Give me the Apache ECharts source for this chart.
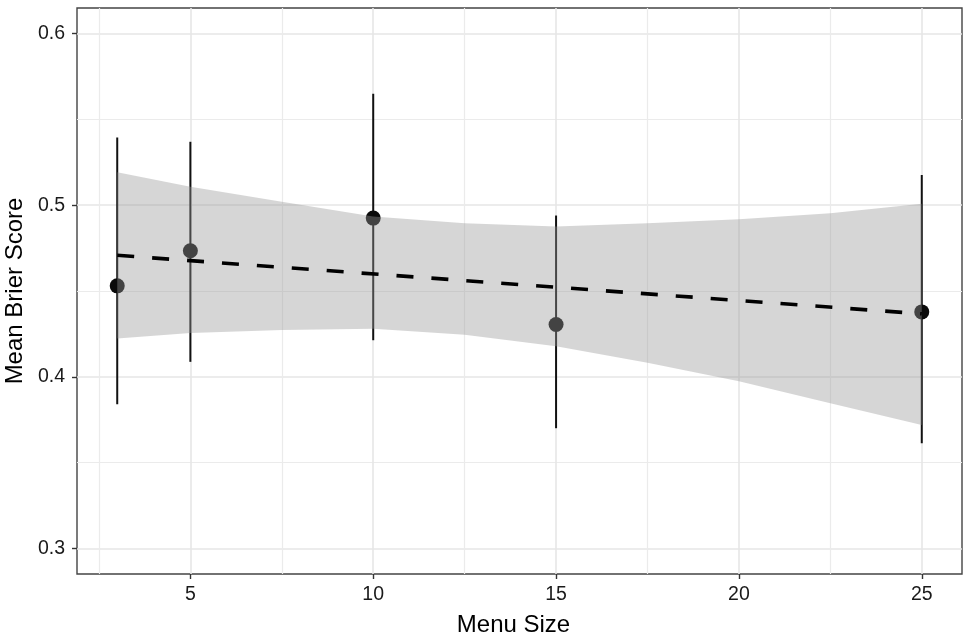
<!DOCTYPE html>
<html><head><meta charset="utf-8">
<script src="https://cdn.jsdelivr.net/npm/echarts@6/dist/echarts.min.js"></script>
<style>html,body{margin:0;padding:0;background:#fff}#c{width:975px;height:640px}</style>
</head><body><div id="c"></div>
<script>
// Observed means and error bars
const menuSizes = [3, 5, 10, 15, 25];
const meanBrier = [0.453, 0.4735, 0.4925, 0.4305, 0.4378];
const barLow = [0.384, 0.4087, 0.4213, 0.370, 0.3613];
const barHigh = [0.5395, 0.537, 0.565, 0.494, 0.5176];
// Fitted linear trend (dashed)
const fitX = [3, 25];
const fitY = [0.4708, 0.4367];
// Confidence band of the fit
const bandX = [3, 5, 7.5, 10, 12.5, 15, 17.5, 20, 22.5, 25];
const bandUpper = [0.5192, 0.5108, 0.502, 0.4935, 0.4895, 0.4876, 0.4895, 0.4919, 0.4953, 0.5008];
const bandLower = [0.4223, 0.4255, 0.4273, 0.428, 0.4245, 0.4178, 0.4081, 0.3974, 0.3845, 0.3719];
// Tick labels
const xMajorTicks = [5, 10, 15, 20, 25];
const xMinorTicks = [2.5, 7.5, 12.5, 17.5, 22.5];
const yMajorTicks = [0.3, 0.4, 0.5, 0.6];
const yMinorTicks = [0.35, 0.45, 0.55];

const FONT = 'Liberation Sans, Arial, sans-serif';
const chart = echarts.init(document.getElementById('c'), null, {renderer: 'canvas'});

const xBase = {type: 'value', min: 1.9, max: 26.1, gridIndex: 0};
const yBase = {type: 'value', min: 0.285, max: 0.615, gridIndex: 0};

chart.setOption({
  animation: false,
  backgroundColor: '#fff',
  grid: {left: 77, right: 13, top: 8, bottom: 66, show: true, borderColor: '#444', borderWidth: 1.4, backgroundColor: 'transparent', containLabel: false, outerBoundsMode: 'none'},
  xAxis: [
    Object.assign({}, xBase, {
      name: 'Menu Size', nameLocation: 'middle', nameGap: 39,
      nameTextStyle: {fontFamily: FONT, fontSize: 24, color: '#000', padding: [0, 12, 0, 0]},
      axisLine: {show: false},
      axisTick: {show: true, length: 5, customValues: xMajorTicks, lineStyle: {color: '#333', width: 1.4}},
      axisLabel: {show: true, customValues: xMajorTicks, margin: 11, fontFamily: FONT, fontSize: 19.5, color: '#1a1a1a'},
      splitLine: {show: true, lineStyle: {color: '#E6E6E6', width: 1.6}}
    }),
    Object.assign({}, xBase, {
      axisLine: {show: false},
      axisTick: {show: false, customValues: xMinorTicks},
      axisLabel: {show: false, customValues: xMinorTicks},
      splitLine: {show: true, lineStyle: {color: '#EBEBEB', width: 1.2}}
    })
  ],
  yAxis: [
    Object.assign({}, yBase, {
      name: 'Mean Brier Score', nameLocation: 'middle', nameGap: 49,
      nameTextStyle: {fontFamily: FONT, fontSize: 24, color: '#000'},
      axisLine: {show: false},
      axisTick: {show: true, length: 5, customValues: yMajorTicks, lineStyle: {color: '#333', width: 1.4}},
      axisLabel: {show: true, customValues: yMajorTicks, margin: 12, fontFamily: FONT, fontSize: 19.5, color: '#1a1a1a',
        formatter: v => v.toFixed(1)},
      splitLine: {show: true, lineStyle: {color: '#E6E6E6', width: 1.6}}
    }),
    Object.assign({}, yBase, {
      axisLine: {show: false},
      axisTick: {show: false, customValues: yMinorTicks},
      axisLabel: {show: false, customValues: yMinorTicks},
      splitLine: {show: true, lineStyle: {color: '#EBEBEB', width: 1.2}}
    })
  ],
  series: [
    {
      type: 'custom', name: 'errorbars', z: 2,
      data: menuSizes.map((x, i) => [x, barLow[i], barHigh[i]]),
      encode: {x: 0, y: [1, 2]},
      renderItem: (params, api) => {
        const p1 = api.coord([api.value(0), api.value(1)]);
        const p2 = api.coord([api.value(0), api.value(2)]);
        return {type: 'line', shape: {x1: p1[0], y1: p1[1], x2: p2[0], y2: p2[1]},
          style: {stroke: '#111', lineWidth: 2}};
      }
    },
    {
      type: 'scatter', name: 'mean', z: 3,
      data: menuSizes.map((x, i) => [x, meanBrier[i]]),
      symbol: 'circle', symbolSize: 15,
      itemStyle: {color: '#0a0a0a', opacity: 1}
    },
    {
      type: 'custom', name: 'band', z: 4,
      data: [[bandX[0], bandUpper[0]]],
      renderItem: (params, api) => {
        const pts = [];
        for (let i = 0; i < bandX.length; i++) pts.push(api.coord([bandX[i], bandUpper[i]]));
        for (let i = bandX.length - 1; i >= 0; i--) pts.push(api.coord([bandX[i], bandLower[i]]));
        return {type: 'polygon', shape: {points: pts}, style: {fill: 'rgba(153,153,153,0.4)'}};
      }
    },
    {
      type: 'line', name: 'fit', z: 5,
      data: fitX.map((x, i) => [x, fitY[i]]),
      symbol: 'none',
      lineStyle: {color: '#000', width: 3.6, type: [17, 18]}
    }
  ]
});
</script>
</body></html>
